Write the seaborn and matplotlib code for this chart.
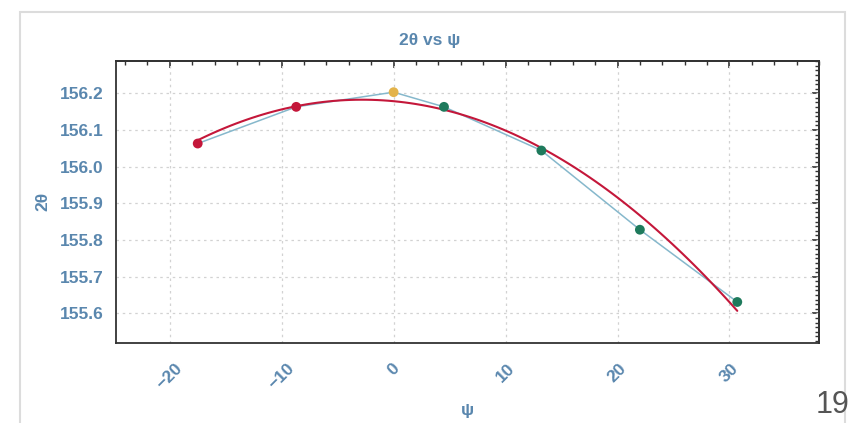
import numpy as np
import pandas as pd
import matplotlib
matplotlib.use("Agg")
import matplotlib.pyplot as plt
from matplotlib.ticker import MultipleLocator, AutoMinorLocator
from matplotlib.patches import Rectangle
import seaborn as sns

psi = [-17.5, -8.7, 0.0, 4.5, 13.2, 22.0, 30.7]
two_theta = [156.063, 156.163, 156.203, 156.163, 156.044, 155.828, 155.631]
side = ["neg", "neg", "zero", "pos", "pos", "pos", "pos"]

point_colors = {"neg": "#c4173a", "zero": "#e3b34a", "pos": "#1e7a5c"}
text_blue = "#5a87ae"

df = pd.DataFrame({"psi": psi, "two_theta": two_theta, "side": side})

sns.set_style("white")
plt.rcParams["font.family"] = ["Liberation Sans", "DejaVu Sans"]

fig = plt.figure(figsize=(8.5, 4.23), dpi=100)

# light panel frame behind the chart
fig.patches.append(Rectangle((20 / 850, -0.05), 825 / 850, 1.05 - 12 / 423,
                             transform=fig.transFigure, fill=False,
                             edgecolor="#dcdcdc", linewidth=1.5, zorder=0))

ax = fig.add_axes([116 / 850, 1 - 342.7 / 423, (819 - 116) / 850, (342.7 - 61) / 423])

# line joining the measured points
sns.lineplot(data=df, x="psi", y="two_theta", sort=False, color="#86b8cc",
             linewidth=1.1, ax=ax, zorder=2)
# second order fit
sns.regplot(data=df, x="psi", y="two_theta", order=2, ci=None, scatter=False,
            color="#c4173a", line_kws={"linewidth": 1.5}, ax=ax)
# measured points
sns.scatterplot(data=df, x="psi", y="two_theta", hue="side", palette=point_colors,
                s=50, edgecolor="none", legend=False, ax=ax, zorder=4)

ax.set_xlim(-24.8, 38.0)
ax.set_ylim(155.52, 156.288)

ax.xaxis.set_major_locator(MultipleLocator(10))
ax.xaxis.set_minor_locator(MultipleLocator(2))
ax.yaxis.set_major_locator(MultipleLocator(0.1))
ax.yaxis.set_minor_locator(AutoMinorLocator(8))
ax.yaxis.set_major_formatter(matplotlib.ticker.FormatStrFormatter("%.1f"))

ax.grid(True, which="major", color="#d2d2d2", linestyle=(0, (2, 3)), linewidth=0.9)
ax.set_axisbelow(True)

for s in ax.spines.values():
    s.set_color("#333333")
    s.set_linewidth(1.3)

ax.tick_params(which="major", direction="inout", length=10, width=1.3, color="#333333",
               labelcolor=text_blue, labelsize=12.5, pad=4)
ax.tick_params(which="minor", direction="inout", length=6, width=1.1, color="#333333")
ax.tick_params(axis="x", which="major", pad=8)

for lab in ax.get_xticklabels():
    lab.set_rotation(45)
    lab.set_fontweight("bold")
for lab in ax.get_yticklabels():
    lab.set_fontweight("bold")

# inward ticks on top and right
top = ax.secondary_xaxis("top")
top.xaxis.set_major_locator(MultipleLocator(10))
top.xaxis.set_minor_locator(MultipleLocator(2))
top.tick_params(which="major", direction="in", length=5, width=1.2, color="#333333", labeltop=False)
top.tick_params(which="minor", direction="in", length=3, width=1.0, color="#333333")
right = ax.secondary_yaxis("right")
right.yaxis.set_major_locator(MultipleLocator(0.1))
right.yaxis.set_minor_locator(AutoMinorLocator(8))
right.tick_params(which="major", direction="in", length=5, width=1.2, color="#333333", labelright=False)
right.tick_params(which="minor", direction="in", length=3, width=1.0, color="#333333")
for sec in (top, right):
    for s in sec.spines.values():
        s.set_color("#333333")
        s.set_linewidth(1.3)

ax.set_xlabel("ψ", color=text_blue, fontsize=12.5, fontweight="bold", labelpad=8)
ax.set_ylabel("2θ", color=text_blue, fontsize=12.5, fontweight="bold", labelpad=7)

fig.text(430 / 850, 1 - 40 / 423, "2θ vs ψ", ha="center", va="center",
         color=text_blue, fontsize=12.5, fontweight="bold")

fig.text(849 / 850, 1 - 405 / 423, "19", ha="right", va="center",
         color="#555555", fontsize=22)

fig.savefig("out.png", dpi=100)
